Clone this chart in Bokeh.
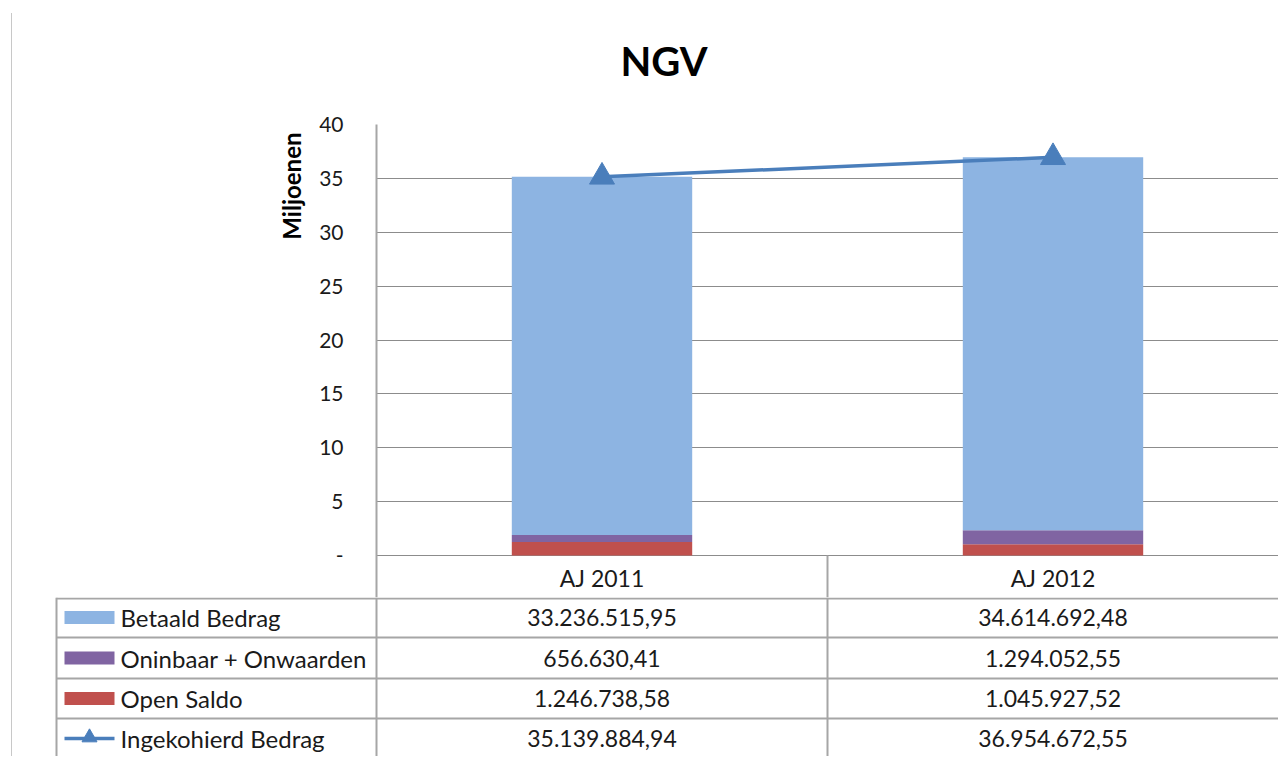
import math
from bokeh.plotting import figure
from bokeh.models import (ColumnDataSource, FactorRange, Range1d, FixedTicker, Title)
from bokeh.layouts import column
from bokeh.core.properties import value
from bokeh.embed import file_html
from bokeh.resources import INLINE

# ---------------- data ----------------
categories = ["AJ 2011", "AJ 2012"]
series_names = ["Betaald Bedrag", "Oninbaar + Onwaarden", "Open Saldo", "Ingekohierd Bedrag"]
betaald = [33236515.95, 34614692.48]
oninbaar = [656630.41, 1294052.55]
open_saldo = [1246738.58, 1045927.52]
ingekohierd = [35139884.94, 36954672.55]
y_ticks = [0, 5, 10, 15, 20, 25, 30, 35, 40]

FONT = "Lato"
TXT = "#1a1a1a"
GRID = "#8c8c8c"
TABLE_LINE = "#a6a6a6"
C_BLUE = "#8DB4E2"
C_PURPLE = "#8064A2"
C_RED = "#C0504D"
C_LINE = "#4A7EBB"


def nl(v):
    s = f"{v:,.2f}"
    return s.replace(",", "X").replace(".", ",").replace("X", ".")


mil = lambda arr: [v / 1e6 for v in arr]

src = ColumnDataSource(dict(
    cat=categories,
    open=mil(open_saldo),
    onin=mil(oninbaar),
    bet=mil(betaald),
    ing=mil(ingekohierd),
))

# page geometry (content starts at x0, y0)
X0, Y0 = 12, 13
W = 1266
FRAME_L, FRAME_T = 376, 124
ZERO_Y = 555
PX_PER_UNIT = (ZERO_Y - FRAME_T) / 40.0
FRAME_B = 597            # the header row of the data table belongs to the chart frame
Y_MIN = -(FRAME_B - ZERO_Y) / PX_PER_UNIT
HDR_Y = -(577 - ZERO_Y) / PX_PER_UNIT

TS = "23px"

# ---------------- chart ----------------
p = figure(width=W, height=FRAME_B - Y0, x_range=FactorRange(*categories),
           y_range=Range1d(Y_MIN, 40), output_backend="svg",
           toolbar_location=None, min_border_left=FRAME_L - X0, min_border_right=0,
           min_border_top=FRAME_T - Y0, min_border_bottom=0)
p.frame_align = False
p.outline_line_color = None
p.xaxis.visible = False
p.xgrid.grid_line_color = None
p.ygrid.grid_line_color = GRID
p.ygrid.grid_line_width = 1
p.yaxis.ticker = FixedTicker(ticks=y_ticks)
p.yaxis.major_label_overrides = {0: "-"}
p.yaxis.major_tick_out = 0
p.yaxis.major_tick_in = 0
p.yaxis.minor_tick_line_color = None
p.yaxis.axis_line_color = TABLE_LINE
p.yaxis.axis_line_width = 2
p.yaxis.major_label_standoff = 33
p.yaxis.major_label_text_font = FONT
p.yaxis.major_label_text_font_size = "21px"
p.yaxis.major_label_text_color = TXT

# y axis title, placed at the top end of the axis like in the original
p.add_layout(Title(text="Miljoenen", align="right", offset=8, standoff=21,
                   text_font=FONT, text_font_style="bold", text_font_size="24px",
                   text_color="#000000"), "left")

# spacer between the frame and the chart title
p.add_layout(Title(text=" ", text_font_size="1px", standoff=37), "above")

p.title.text = "NGV"
p.title.align = "left"
p.title.offset = 244
p.title.text_font = FONT
p.title.text_font_style = "bold"
p.title.text_font_size = "40px"
p.title.text_color = "#000000"
p.title.standoff = 0

p.vbar_stack(["open", "onin", "bet"], x="cat", width=0.4, source=src,
             color=[C_RED, C_PURPLE, C_BLUE], line_color=None)
p.line(x="cat", y="ing", source=src, line_color=C_LINE, line_width=3.5)
p.scatter(x="cat", y="ing", source=src, marker="triangle", size=25,
          fill_color=C_LINE, line_color=C_LINE)

# data table header row (inside the chart frame, below zero)
p.segment(x0=[1.0], y0=[0], x1=[1.0], y1=[Y_MIN], line_color=TABLE_LINE, line_width=2)
p.text(x=categories, y=[HDR_Y] * len(categories), text=categories, text_align="center",
       text_baseline="middle", text_font=value(FONT), text_font_size=TS, text_color=TXT)

# ---------------- data table body ----------------
TOP, BOT = FRAME_B, 756
t = figure(width=W, height=BOT - TOP, x_range=Range1d(X0, X0 + W), y_range=Range1d(BOT, TOP),
           output_backend="svg", toolbar_location=None,
           min_border_left=0, min_border_right=0, min_border_top=0, min_border_bottom=0)
t.frame_align = False
t.axis.visible = False
t.grid.grid_line_color = None
t.outline_line_color = None

frame_r = X0 + W
cw = (frame_r - FRAME_L) / len(categories)
col_centers = [FRAME_L + cw * (i + 0.5) for i in range(len(categories))]
row_y = [598, 637, 678, 718]
row_centers = [617, 657.5, 698, 738]

# lines
t.segment(x0=[FRAME_L, FRAME_L + cw, 56], y0=[TOP, TOP, TOP],
          x1=[FRAME_L, FRAME_L + cw, 56], y1=[BOT, BOT, BOT],
          line_color=TABLE_LINE, line_width=2)
t.segment(x0=[56] * len(row_y), y0=row_y, x1=[frame_r] * len(row_y), y1=row_y,
          line_color=TABLE_LINE, line_width=2)

# row labels and swatches
t.text(x=[120] * 4, y=row_centers, text=series_names, text_align="left",
       text_baseline="middle", text_font=value(FONT), text_font_size="24px", text_color=TXT)
t.rect(x=[89] * 3, y=row_centers[:3], width=50, height=13,
       fill_color=[C_BLUE, C_PURPLE, C_RED], line_color=None)
t.segment(x0=[64], y0=[row_centers[3]], x1=[114], y1=[row_centers[3]],
          line_color=C_LINE, line_width=3.5)
t.scatter(x=[89], y=[row_centers[3] - 1], marker="triangle", size=15,
          fill_color=C_LINE, line_color=C_LINE)

# values
rows = [betaald, oninbaar, open_saldo, ingekohierd]
xs, ys, txt = [], [], []
for r, vals in enumerate(rows):
    for c, v in enumerate(vals):
        xs.append(col_centers[c])
        ys.append(row_centers[r])
        txt.append(nl(v))
t.text(x=xs, y=ys, text=txt, text_align="center", text_baseline="middle",
       text_font=value(FONT), text_font_size=TS, text_color=TXT)

layout = column(p, t, spacing=0,
                styles={"border-left": "1px solid #c8c8c8", "margin-left": "11px",
                        "margin-top": "13px"})

open("out.html", "w").write(file_html(layout, INLINE))
